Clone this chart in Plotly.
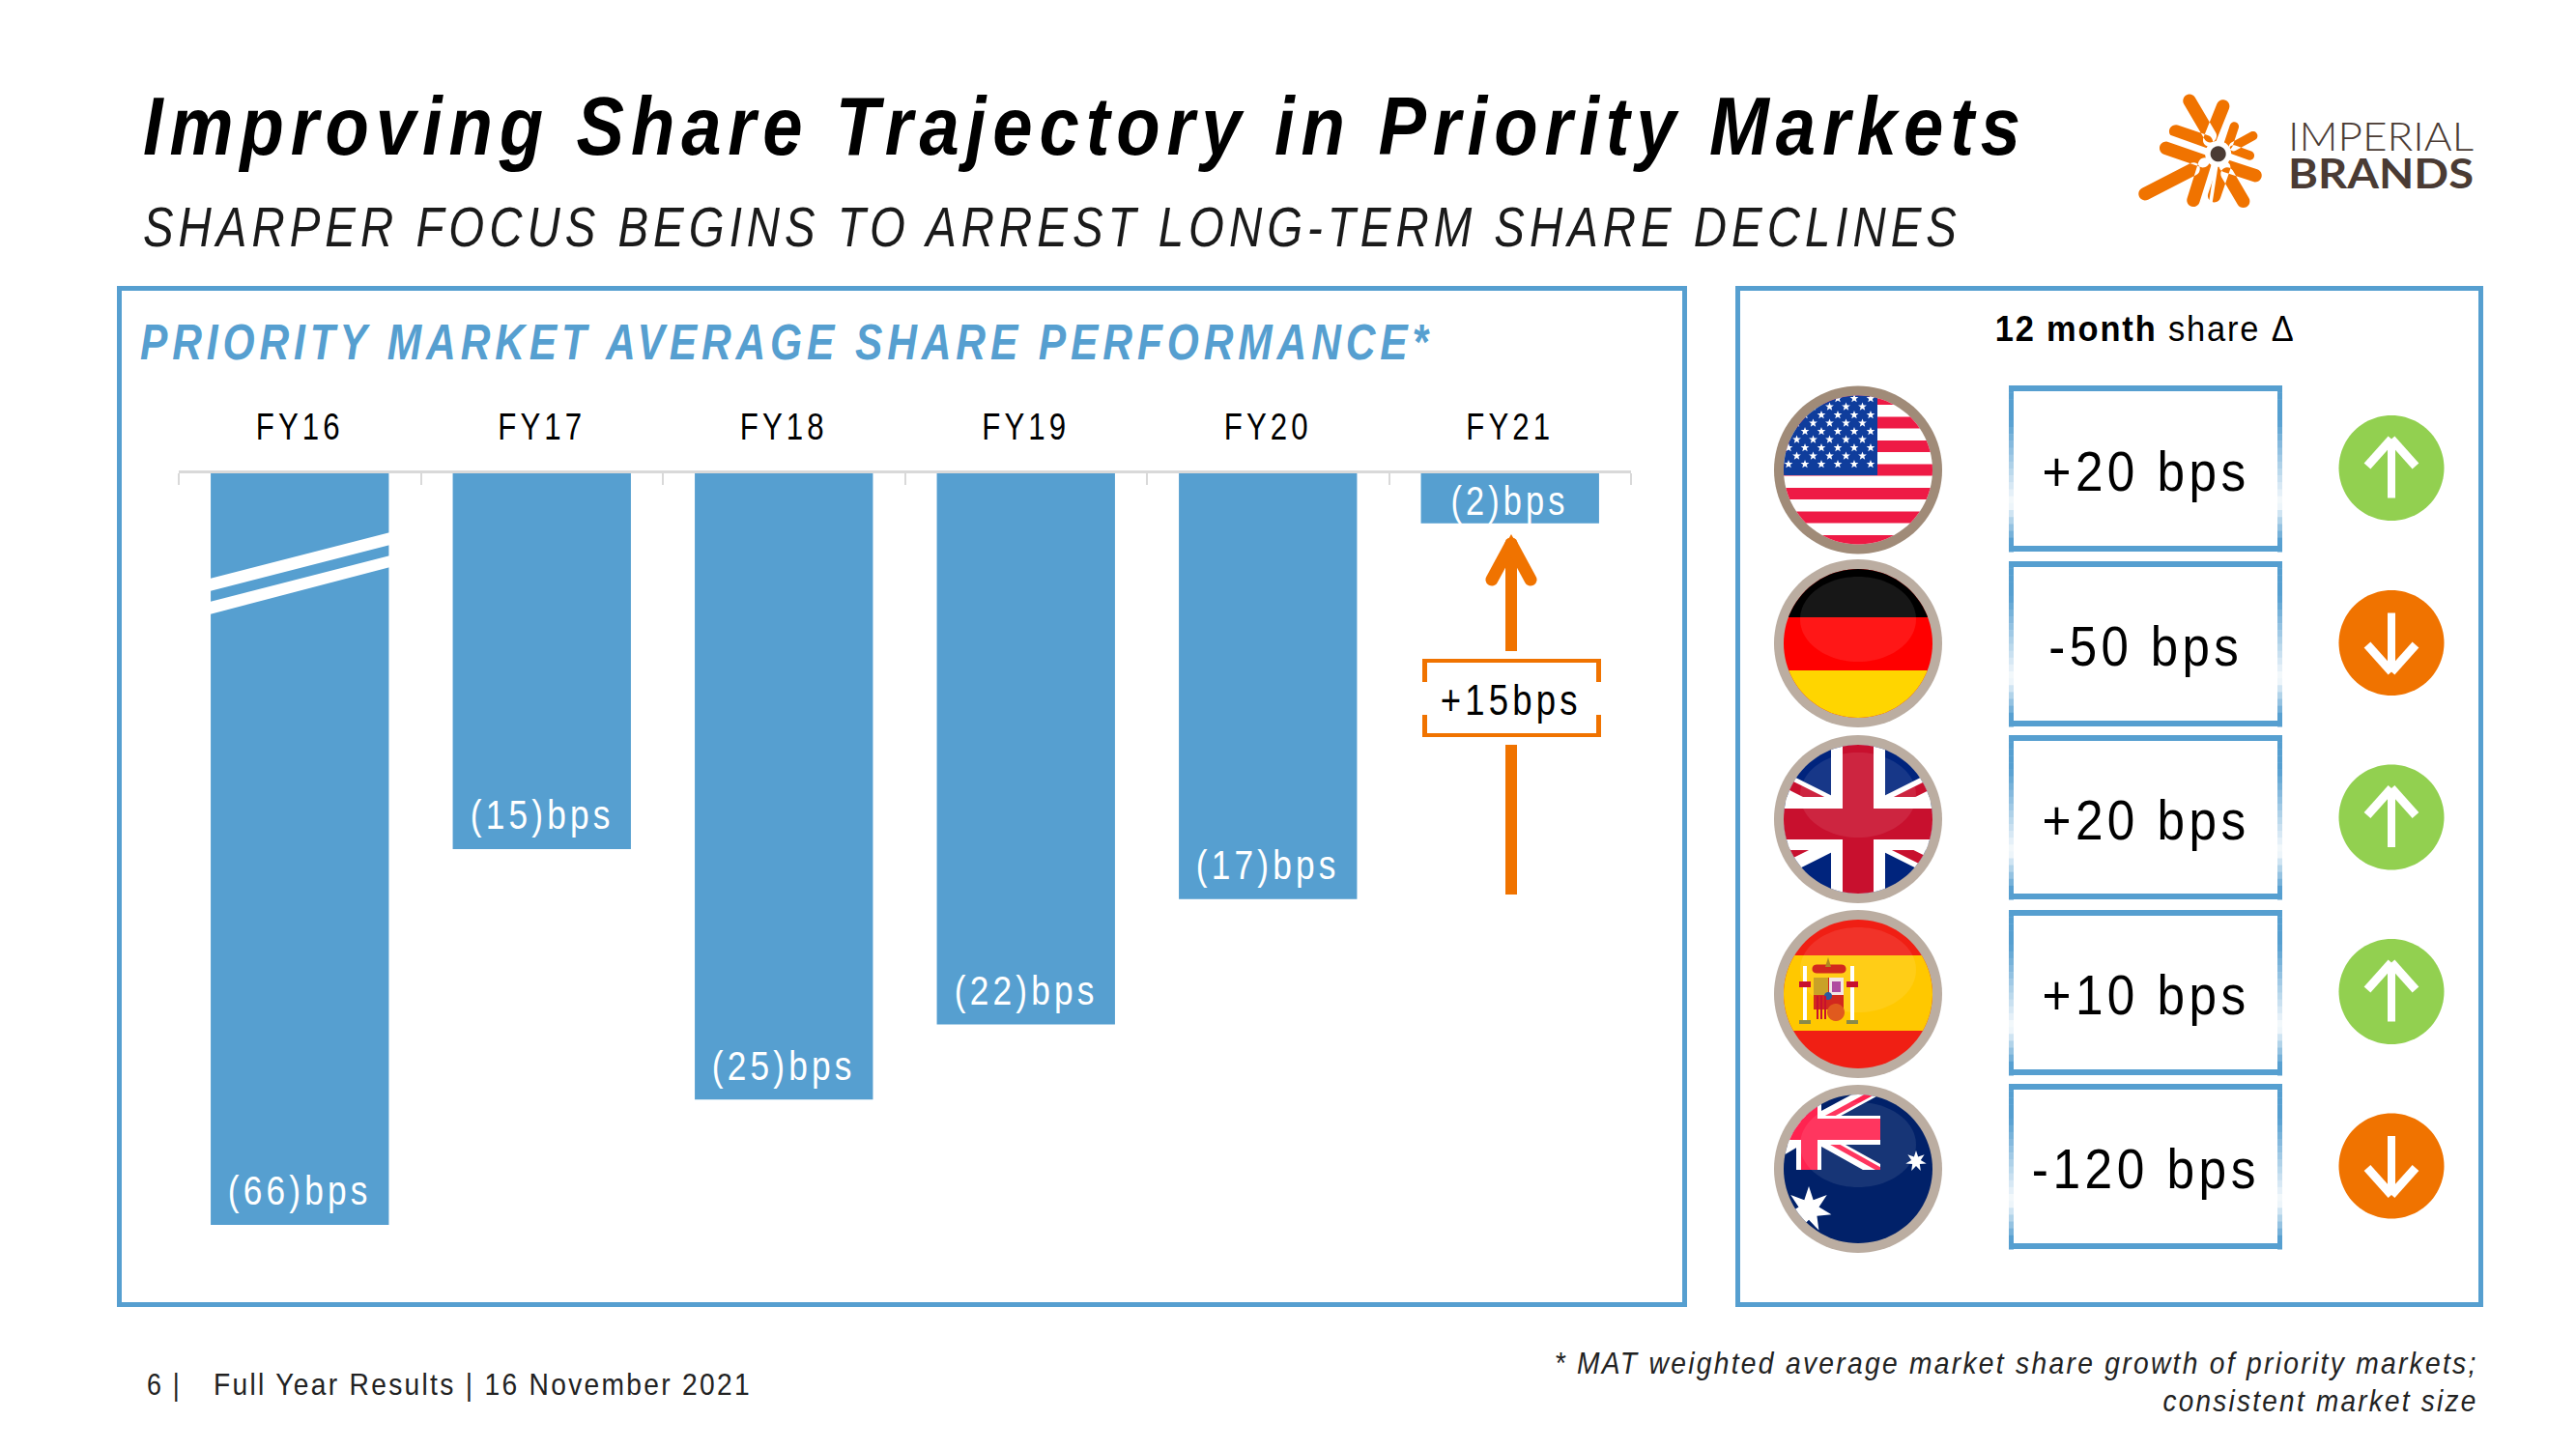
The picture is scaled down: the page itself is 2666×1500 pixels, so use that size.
import json, math
import plotly.graph_objects as go

W, H = 2666, 1500
BLUE = "#569FD0"; ORANGE = "#F07300"; GREEN = "#92D050"; BROWN = "#4A3B34"; AXIS = "#D9D9D9"
FONT = "Liberation Sans, Arial"

# ---------- data ----------
fiscal_years = ["FY16", "FY17", "FY18", "FY19", "FY20", "FY21"]
share_change_bps = [-66, -15, -25, -22, -17, -2]
# FY16 is drawn on a broken axis, so its bar is truncated to this height
drawn_bar_bps = [-30, -15, -25, -22, -17, -2]
improvement_label = "+15bps"
markets = ["USA", "Germany", "UK", "Spain", "Australia"]
twelve_month_delta_bps = [20, -50, 20, 10, -120]

def X(x): return x / W
def Y(y): return 1 - y / H

shapes, notes = [], []

def path(points):
    return "M" + " L".join(f"{X(a):.5f},{Y(b):.5f}" for a, b in points) + " Z"

def poly(points, color, opacity=1.0):
    if len(points) < 3: return
    shapes.append(dict(type="path", xref="paper", yref="paper", path=path(points),
                       fillcolor=color, line=dict(width=0), opacity=opacity))

def multipoly(polys, color):
    polys = [p for p in polys if len(p) >= 3]
    if polys:
        shapes.append(dict(type="path", xref="paper", yref="paper", path=" ".join(path(p) for p in polys),
                           fillcolor=color, line=dict(width=0)))

def rect(x0, y0, x1, y1, color):
    poly([(x0, y0), (x1, y0), (x1, y1), (x0, y1)], color)

def circle_pts(cx, cy, r, ry=None, n=96):
    ry = ry or r
    return [(cx + r * math.cos(2 * math.pi * i / n), cy + ry * math.sin(2 * math.pi * i / n)) for i in range(n)]

def clip(subject, convex):
    out = subject
    m = len(convex)
    for i in range(m):
        a, b = convex[i], convex[(i + 1) % m]
        inside = lambda p: (b[0] - a[0]) * (p[1] - a[1]) - (b[1] - a[1]) * (p[0] - a[0]) >= 0
        def cross(p, q):
            d1 = (b[0] - a[0]) * (p[1] - a[1]) - (b[1] - a[1]) * (p[0] - a[0])
            d2 = (b[0] - a[0]) * (q[1] - a[1]) - (b[1] - a[1]) * (q[0] - a[0])
            t = d1 / (d1 - d2)
            return (p[0] + t * (q[0] - p[0]), p[1] + t * (q[1] - p[1]))
        res = []
        for j in range(len(out)):
            p, q = out[j], out[(j + 1) % len(out)]
            if inside(q):
                if not inside(p): res.append(cross(p, q))
                res.append(q)
            elif inside(p):
                res.append(cross(p, q))
        out = res
        if not out: break
    return out

def capsule(x0, y0, x1, y1, w):
    ang = math.atan2(y1 - y0, x1 - x0)
    pts = []
    for k in range(13):
        t = ang + math.pi / 2 + math.pi * k / 12
        pts.append((x0 + w / 2 * math.cos(t), y0 + w / 2 * math.sin(t)))
    for k in range(13):
        t = ang - math.pi / 2 + math.pi * k / 12
        pts.append((x1 + w / 2 * math.cos(t), y1 + w / 2 * math.sin(t)))
    return pts

def band(x0, y0, x1, y1, w):
    ang = math.atan2(y1 - y0, x1 - x0) + math.pi / 2
    dx, dy = w / 2 * math.cos(ang), w / 2 * math.sin(ang)
    return [(x0 + dx, y0 + dy), (x1 + dx, y1 + dy), (x1 - dx, y1 - dy), (x0 - dx, y0 - dy)]

def star(cx, cy, r, points=5, inner=0.42):
    return [(cx + (r if i % 2 == 0 else r * inner) * math.sin(math.pi * i / points),
             cy - (r if i % 2 == 0 else r * inner) * math.cos(math.pi * i / points)) for i in range(points * 2)]

def txt(x, y, text, size, color="#000000", anchor="center", family=FONT, weight=None):
    f = dict(size=size, color=color, family=family)
    if weight: f["weight"] = weight
    notes.append(dict(x=X(x), y=Y(y), xref="paper", yref="paper", text=text, showarrow=False,
                      xanchor=anchor, yanchor="middle", align=anchor, font=f))

def frame(x0, y0, x1, y1, t, color):
    rect(x0, y0, x1, y0 + t, color); rect(x0, y1 - t, x1, y1, color)
    rect(x0, y0, x0 + t, y1, color); rect(x1 - t, y0, x1, y1, color)

# ---------- page furniture ----------
txt(146, 130, "<b><i>Improving Share Trajectory in Priority Markets</i></b>", 86, anchor="left")
txt(146, 235, "<i>SHARPER FOCUS BEGINS TO ARREST LONG-TERM SHARE DECLINES</i>", 57, color="#1A1A1A", anchor="left")
frame(121, 296, 1746, 1353, 5, BLUE)
frame(1796, 296, 2570, 1353, 5, BLUE)
txt(143, 354, "<b><i>PRIORITY MARKET AVERAGE SHARE PERFORMANCE*</i></b>", 52, color=BLUE, anchor="left")
txt(150, 1433, "6 |", 32, color="#222222", anchor="left")
txt(219, 1433, "Full Year Results | 16 November 2021", 32, color="#222222", anchor="left")
txt(2567, 1411, "<i>* MAT weighted average market share growth of priority markets;</i>", 32, color="#222222", anchor="right")
txt(2567, 1450, "<i>consistent market size</i>", 32, color="#222222", anchor="right")

# ---------- axis break on FY16 ----------
poly([(217, 599), (404, 551), (404, 564), (217, 612)], "#FFFFFF")
poly([(217, 623), (404, 575), (404, 587), (217, 636)], "#FFFFFF")

# ---------- FY21 arrow and bracket ----------
ax = 1564
rect(ax - 6, 771, ax + 6, 926, ORANGE)
rect(ax - 6, 575, ax + 6, 674, ORANGE)
poly(capsule(ax, 563, ax - 20, 600, 13), ORANGE)
poly(capsule(ax, 563, ax + 20, 600, 13), ORANGE)
poly([(ax, 553), (ax + 8, 567), (ax - 8, 567)], ORANGE)
rect(1472, 682, 1657, 686, ORANGE); rect(1472, 759, 1657, 763, ORANGE)
rect(1472, 682, 1477, 706, ORANGE); rect(1652, 682, 1657, 706, ORANGE)
rect(1472, 740, 1477, 763, ORANGE); rect(1652, 740, 1657, 763, ORANGE)
txt(ax, 724, improvement_label, 44)

# ---------- right-hand table ----------
txt(2220, 340, "<b>12 month</b> share Δ", 37)
row_flag_y = [486.5, 666, 848, 1029, 1210]
row_box = [(399, 571), (581, 752), (761, 931), (942, 1113), (1122, 1293)]
row_badge_y = [484.5, 665.5, 846, 1026.5, 1207]
BOX_L, BOX_R = 2079, 2362
BADGE_X, BADGE_R = 2475, 54.5

def mix(t):
    c0 = (0x56, 0x9F, 0xD0)
    return "#%02X%02X%02X" % tuple(round(a + (255 - a) * t) for a in c0)

for (top, bot), delta, by in zip(row_box, twelve_month_delta_bps, row_badge_y):
    rect(BOX_L, top, BOX_R, top + 6, BLUE)
    rect(BOX_L, bot - 6, BOX_R, bot, BLUE)
    n = 24
    for i in range(n):
        f = i / (n - 1)
        if f < 0.2: t = 0
        elif f < 0.72: t = (f - 0.2) / 0.52
        else: t = max(0, 1 - (f - 0.72) / 0.24)
        y0 = top + (bot - top) * i / n
        y1 = top + (bot - top) * (i + 1) / n + 0.5
        for x0 in (BOX_L, BOX_R - 5):
            rect(x0, y0, x0 + 5, y1, mix(t * 0.97))
    txt((BOX_L + BOX_R) / 2, (top + bot) / 2 + 2, f"{delta:+d} bps", 58)
    up = delta > 0
    poly(circle_pts(BADGE_X, by, BADGE_R), GREEN if up else ORANGE)
    s = -1 if up else 1
    poly(band(BADGE_X, by - s * 31, BADGE_X, by + s * 28, 8), "#FFFFFF")
    tip = by + s * 30
    poly(band(BADGE_X, tip, BADGE_X - 25, tip - s * 28, 9), "#FFFFFF")
    poly(band(BADGE_X, tip, BADGE_X + 25, tip - s * 28, 9), "#FFFFFF")

# ---------- flags ----------
FX, RO, RI = 1923, 87, 77

def base(cy, ring):
    poly(circle_pts(FX, cy, RO), ring)
    return circle_pts(FX, cy, RI)

def gloss(cy):
    poly(circle_pts(FX, cy - 25, 60, 44), "#FFFFFF", 0.09)

def clipped(points, disc, color):
    poly(clip(points, disc), color)

def rc(x0, y0, x1, y1):
    return [(x0, y0), (x1, y0), (x1, y1), (x0, y1)]

# USA
cy = row_flag_y[0]
d = base(cy, "#A08B78")
poly(d, "#FFFFFF")
for k in range(7):
    y0 = cy - 79.5 + 24.5 * k
    clipped(rc(FX - RI, y0, FX + RI, y0 + 12), d, "#EE1A45")
clipped(rc(FX - RI, cy - RI, FX + 20, cy + 5.5), d, "#0F3D9C")
stars = []
for r in range(9):
    sy = cy - 74 + r * 8.5
    for c in range(-1, 7):
        sx = FX - 72 + c * 17 + (8.5 if r % 2 else 0)
        if sx < FX + 16:
            stars.append(clip(star(sx, sy, 4.6), d))
multipoly(stars, "#FFFFFF")
# Germany
cy = row_flag_y[1]
d = base(cy, "#BBADA1")
poly(d, "#FF0000")
clipped(rc(FX - RI, cy - RI, FX + RI, cy - 27), d, "#000000")
clipped(rc(FX - RI, cy + 28, FX + RI, cy + RI), d, "#FFD500")
gloss(cy)
# UK
cy = row_flag_y[2]
d = base(cy, "#BBADA1")
poly(d, "#00247D")
for (a, b) in [((FX - 90, cy - 40), (FX + 90, cy + 50)), ((FX - 90, cy + 50), (FX + 90, cy - 40))]:
    clipped(band(a[0], a[1], b[0], b[1], 28), d, "#FFFFFF")
for (a, b) in [((FX - 90, cy - 45), (FX, cy)), ((FX + 10, cy + 14), (FX + 90, cy + 54)),
               ((FX - 90, cy + 46), (FX - 8, cy + 5)), ((FX + 8, cy - 3), (FX + 90, cy - 44))]:
    clipped(band(a[0], a[1], b[0], b[1], 10), d, "#C8102E")
clipped(rc(FX - 28, cy - RI, FX + 28, cy + RI), d, "#FFFFFF")
clipped(rc(FX - RI, cy - 23, FX + RI, cy + 32), d, "#FFFFFF")
clipped(rc(FX - 16, cy - RI, FX + 16, cy + RI), d, "#C8102E")
clipped(rc(FX - RI, cy - 11, FX + RI, cy + 21), d, "#C8102E")
gloss(cy)
# Spain
cy = row_flag_y[3]
d = base(cy, "#BBADA1")
poly(d, "#F01F14")
clipped(rc(FX - RI, cy - 40, FX + RI, cy + 38), d, "#FFC800")
gloss(cy)
rect(1866, 1000, 1870, 1058, "#FFFFFF"); rect(1915, 1000, 1919, 1058, "#FFFFFF")
rect(1862, 1016, 1874, 1022, "#C8102E"); rect(1911, 1016, 1923, 1022, "#C8102E")
rect(1862, 1056, 1874, 1060, "#8A8A4A"); rect(1911, 1056, 1923, 1060, "#8A8A4A")
poly(capsule(1880, 1003, 1906, 1003, 9), "#D2281E")
poly([(1892, 991), (1895, 1001), (1889, 1001)], "#B08A20")
rect(1877, 1012, 1908, 1045, "#D2281E")
rect(1877, 1012, 1892, 1030, "#C9A227")
rect(1893, 1012, 1908, 1030, "#F2E6E6")
rect(1896, 1016, 1905, 1027, "#B04AA0")
poly(circle_pts(1900, 1048, 9), "#E05A1E")
poly(circle_pts(1892, 1031, 4), "#2A5AA0")
for sx in (1880, 1884, 1888):
    rect(sx, 1031, sx + 2, 1055, "#C8102E")
# Australia
cy = row_flag_y[4]
d = base(cy, "#BBADA1")
poly(d, "#012169")
C = clip(rc(FX - RI, cy - RI, FX + 23, cy + 1), d)
for (a, b) in [((1885, 1158), (1946, 1125)), ((1885, 1179), (1946, 1213)),
               ((1859, 1160), (1825, 1140)), ((1859, 1180), (1825, 1200))]:
    clipped(band(a[0], a[1], b[0], b[1], 14), C, "#FFFFFF")
for (a, b) in [((1885, 1160), (1946, 1127)), ((1885, 1177), (1946, 1211))]:
    clipped(band(a[0], a[1], b[0], b[1], 5), C, "#FF2350")
clipped(rc(1859, cy - RI, 1885, cy + 1), C, "#FFFFFF")
clipped(rc(FX - RI, 1155, 1946, 1185), C, "#FFFFFF")
clipped(rc(1864, cy - RI, 1881, cy + 1), C, "#FF2350")
clipped(rc(FX - RI, 1158, 1946, 1180), C, "#FF2350")
gloss(cy)
clipped(star(1872, 1252, 24, 7, 0.45), d, "#FFFFFF")
poly(star(1983, 1202, 11, 7, 0.45), "#FFFFFF")

# ---------- logo ----------
def lx(v): return 2180 + v / 3
def ly(v): return 70 + v / 3
wide = [(258, 103, 322, 212), (362, 120, 320, 225), (215, 198, 310, 230), (185, 250, 300, 290),
        (120, 392, 270, 315), (270, 412, 305, 300), (335, 398, 365, 310), (425, 415, 375, 330),
        (462, 335, 370, 305)]
thin = [(397, 183, 378, 240), (455, 212, 395, 245), (445, 273, 395, 255)]
multipoly([capsule(lx(a), ly(b), lx(c), ly(e), 13.5) for a, b, c, e in wide], ORANGE)
multipoly([capsule(lx(a), ly(b), lx(c), ly(e), 9.5) for a, b, c, e in thin], ORANGE)
poly(circle_pts(lx(347), ly(268), 13.5), "#FFFFFF")
for a, b in [(190, 212), (322, 430), (378, 170), (480, 305)]:
    poly(band(lx(347), ly(268), lx(a), ly(b), 3.6), "#FFFFFF")
poly(circle_pts(lx(347), ly(268), 12.5), "#FFFFFF")
poly(circle_pts(lx(347), ly(268), 8), BROWN)
txt(2366, 140, "IMPERIAL", 42, color=BROWN, anchor="left", family="Lato, Noto Sans", weight=300)
txt(2366, 179, "<b>BRANDS</b>", 42, color=BROWN, anchor="left", family="Lato, Noto Sans")

# ---------- end ticks of the category axis ----------
rect(184, 490, 186, 502, AXIS)
rect(1687, 490, 1689, 502, AXIS)

# ---------- bar value labels, placed through the data axes ----------
for fy, v, drawn in zip(fiscal_years, share_change_bps, drawn_bar_bps):
    notes.append(dict(x=fy, y=drawn, xref="x", yref="y", text=f"({abs(v)})bps", showarrow=False,
                      xanchor="center", yanchor="middle", yshift=35 if drawn < -5 else 23,
                      font=dict(size=42, color="#FFFFFF", family=FONT)))

# ---------- figure ----------
fig = go.Figure(go.Bar(
    x=fiscal_years, y=drawn_bar_bps, marker=dict(color=BLUE, line=dict(width=0)), width=0.736,
    cliponaxis=False, hoverinfo="skip",
))
fig.update_layout(
    width=W, height=H, autosize=False, margin=dict(l=0, r=0, t=0, b=0),
    paper_bgcolor="#FFFFFF", plot_bgcolor="rgba(0,0,0,0)", showlegend=False,
    shapes=shapes, annotations=notes,
    xaxis=dict(domain=[X(185), X(1688)], type="category", side="top", tickson="boundaries",
               ticks="inside", ticklen=12, tickwidth=2, tickcolor=AXIS, showline=True, linecolor=AXIS,
               linewidth=3, showgrid=False, zeroline=False, ticklabelstandoff=17,
               tickfont=dict(size=38, color="#000000", family=FONT), fixedrange=True),
    yaxis=dict(domain=[Y(490 + 25.93 * 31), Y(490)], range=[-31, 0], visible=False, fixedrange=True),
)

# [text prefix, letter spacing px, rendered width px]
spacing = [["Improving", 8, 1950], ["SHARPER", 6, 1882], ["PRIORITY", 6, 1338], ["FY", 5, 91],
           ["(2)", 5, 122], ["(", 5, 149], ["+15", 5, 146], ["-120", 5, 236], ["-50", 5, 201],
           ["+", 5, 215], ["12 month", 2, 311],
           ["Full Year", 2.6, 557], ["6 |", 2.6, 36], ["* MAT", 2.6, 956], ["consistent", 2.6, 326],
           ["IMPERIAL", 0.0, 192], ["BRANDS", 0.0, 192]]
post = """
document.body.style.margin='0';document.body.style.overflow='hidden';
var sp=%s;
document.querySelectorAll('svg text').forEach(function(t){
  var c=t.textContent;
  for(var i=0;i<sp.length;i++){ if(c.indexOf(sp[i][0])===0){
    t.style.letterSpacing=sp[i][1]+'px';
    t.setAttribute('textLength',sp[i][2]);
    t.setAttribute('lengthAdjust','spacingAndGlyphs');
    break; } }
});
""" % json.dumps(spacing)
fig.write_html("out.html", config=dict(displayModeBar=False, staticPlot=True), post_script=post)
